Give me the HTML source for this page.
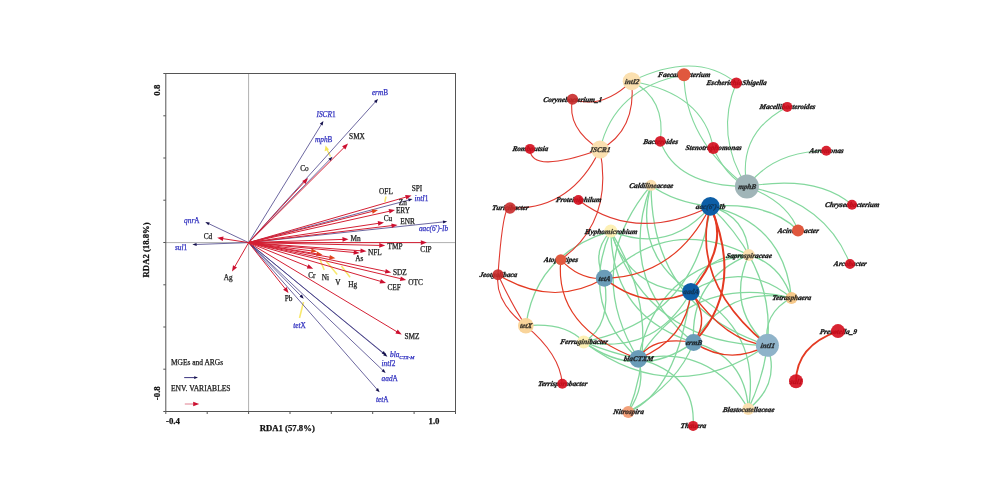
<!DOCTYPE html>
<html><head><meta charset="utf-8"><style>
html,body{margin:0;padding:0;background:#fff;}
body{width:1000px;height:500px;overflow:hidden;font-family:"Liberation Serif",serif;}
svg{display:block;filter:blur(0.6px);}
</style></head><body>
<svg width="1000" height="500" viewBox="0 0 1000 500">
<rect width="1000" height="500" fill="#fff"/>
<g font-family='"Liberation Serif", serif'>
<line x1="248.6" y1="73.5" x2="248.6" y2="411.5" stroke="#9a9a9a" stroke-width="0.8"/>
<line x1="165.8" y1="242.6" x2="455.5" y2="242.6" stroke="#9a9a9a" stroke-width="0.8"/>
<rect x="165.8" y="73.5" width="289.7" height="338.0" fill="none" stroke="#555" stroke-width="1"/>
<line x1="163.3" y1="73.5" x2="165.8" y2="73.5" stroke="#555" stroke-width="1"/>
<line x1="163.3" y1="115.8" x2="165.8" y2="115.8" stroke="#555" stroke-width="1"/>
<line x1="163.3" y1="158.0" x2="165.8" y2="158.0" stroke="#555" stroke-width="1"/>
<line x1="163.3" y1="200.2" x2="165.8" y2="200.2" stroke="#555" stroke-width="1"/>
<line x1="163.3" y1="242.5" x2="165.8" y2="242.5" stroke="#555" stroke-width="1"/>
<line x1="163.3" y1="284.8" x2="165.8" y2="284.8" stroke="#555" stroke-width="1"/>
<line x1="163.3" y1="327.0" x2="165.8" y2="327.0" stroke="#555" stroke-width="1"/>
<line x1="163.3" y1="369.2" x2="165.8" y2="369.2" stroke="#555" stroke-width="1"/>
<line x1="163.3" y1="411.5" x2="165.8" y2="411.5" stroke="#555" stroke-width="1"/>
<line x1="165.8" y1="411.5" x2="165.8" y2="414.0" stroke="#555" stroke-width="1"/>
<line x1="207.2" y1="411.5" x2="207.2" y2="414.0" stroke="#555" stroke-width="1"/>
<line x1="248.6" y1="411.5" x2="248.6" y2="414.0" stroke="#555" stroke-width="1"/>
<line x1="290.0" y1="411.5" x2="290.0" y2="414.0" stroke="#555" stroke-width="1"/>
<line x1="331.3" y1="411.5" x2="331.3" y2="414.0" stroke="#555" stroke-width="1"/>
<line x1="372.7" y1="411.5" x2="372.7" y2="414.0" stroke="#555" stroke-width="1"/>
<line x1="414.1" y1="411.5" x2="414.1" y2="414.0" stroke="#555" stroke-width="1"/>
<line x1="455.5" y1="411.5" x2="455.5" y2="414.0" stroke="#555" stroke-width="1"/>
<line x1="386" y1="196.5" x2="384.8" y2="202" stroke="#f5e03a" stroke-width="1.5" stroke-opacity="0.75"/>
<line x1="319" y1="257" x2="324.2" y2="270" stroke="#f5e03a" stroke-width="1.5" stroke-opacity="0.75"/>
<line x1="326" y1="261" x2="337.2" y2="274.4" stroke="#f5e03a" stroke-width="1.5" stroke-opacity="0.75"/>
<line x1="341.4" y1="266" x2="350.1" y2="277.2" stroke="#f5e03a" stroke-width="1.5" stroke-opacity="0.75"/>
<line x1="303.5" y1="302" x2="299.5" y2="318" stroke="#f5e03a" stroke-width="1.5" stroke-opacity="0.75"/>
<line x1="327.2" y1="150" x2="330.5" y2="156.5" stroke="#f5e03a" stroke-width="1.5" stroke-opacity="0.75"/>
<line x1="248.6" y1="242.6" x2="375.5" y2="101.7" stroke="#3c3680" stroke-width="0.75"/>
<polygon points="378.0,99.0 376.4,103.2 374.0,101.0" fill="#14104c"/>
<line x1="248.6" y1="242.6" x2="321.5" y2="124.2" stroke="#3c3680" stroke-width="0.75"/>
<polygon points="323.4,121.0 322.6,125.4 319.8,123.7" fill="#14104c"/>
<line x1="248.6" y1="242.6" x2="329.9" y2="159.4" stroke="#3c3680" stroke-width="0.75"/>
<polygon points="332.5,156.8 330.7,160.9 328.4,158.7" fill="#14104c"/>
<line x1="248.6" y1="242.6" x2="408.9" y2="200.0" stroke="#3c3680" stroke-width="0.75"/>
<polygon points="412.5,199.0 408.9,201.6 408.0,198.5" fill="#14104c"/>
<line x1="248.6" y1="242.6" x2="443.5" y2="221.9" stroke="#3c3680" stroke-width="0.75"/>
<polygon points="447.2,221.5 443.2,223.5 442.9,220.4" fill="#14104c"/>
<line x1="248.6" y1="242.6" x2="208.6" y2="223.6" stroke="#3c3680" stroke-width="0.75"/>
<polygon points="205.3,222.0 209.8,222.4 208.4,225.2" fill="#14104c"/>
<line x1="248.6" y1="242.6" x2="196.1" y2="244.5" stroke="#3c3680" stroke-width="0.75"/>
<polygon points="192.4,244.6 196.5,242.9 196.7,246.0" fill="#14104c"/>
<line x1="248.6" y1="242.6" x2="301.1" y2="296.1" stroke="#3c3680" stroke-width="0.75"/>
<polygon points="303.7,298.7 299.6,296.8 301.9,294.6" fill="#14104c"/>
<line x1="248.6" y1="242.6" x2="384.5" y2="354.4" stroke="#3c3680" stroke-width="0.75"/>
<polygon points="387.4,356.7 383.1,355.3 385.2,352.8" fill="#14104c"/>
<line x1="248.6" y1="242.6" x2="383.1" y2="352.7" stroke="#3c3680" stroke-width="0.75"/>
<polygon points="386.0,355.0 381.7,353.6 383.8,351.1" fill="#14104c"/>
<line x1="248.6" y1="242.6" x2="382.9" y2="370.4" stroke="#3c3680" stroke-width="0.75"/>
<polygon points="385.6,373.0 381.5,371.3 383.7,368.9" fill="#14104c"/>
<line x1="248.6" y1="242.6" x2="377.2" y2="389.5" stroke="#3c3680" stroke-width="0.75"/>
<polygon points="379.6,392.3 375.6,390.2 378.0,388.1" fill="#14104c"/>
<line x1="248.6" y1="242.6" x2="344.1" y2="147.5" stroke="#d42034" stroke-width="1.0"/>
<polygon points="348.0,143.6 345.4,149.5 342.1,146.2" fill="#cc1030"/>
<line x1="248.6" y1="242.6" x2="304.3" y2="182.0" stroke="#d42034" stroke-width="1.0"/>
<polygon points="308.0,178.0 305.6,184.0 302.2,180.9" fill="#cc1030"/>
<line x1="248.6" y1="242.6" x2="406.2" y2="197.0" stroke="#d42034" stroke-width="1.0"/>
<polygon points="411.5,195.5 406.4,199.4 405.1,195.0" fill="#cc1030"/>
<line x1="248.6" y1="242.6" x2="389.6" y2="211.2" stroke="#d42034" stroke-width="1.0"/>
<polygon points="395.0,210.0 389.6,213.5 388.6,209.1" fill="#cc1030"/>
<line x1="248.6" y1="242.6" x2="378.6" y2="223.3" stroke="#d42034" stroke-width="1.0"/>
<polygon points="384.0,222.5 378.4,225.7 377.7,221.1" fill="#cc1030"/>
<line x1="248.6" y1="242.6" x2="392.0" y2="225.6" stroke="#d42034" stroke-width="1.0"/>
<polygon points="397.5,225.0 391.8,228.0 391.3,223.4" fill="#cc1030"/>
<line x1="248.6" y1="242.6" x2="343.0" y2="239.4" stroke="#d42034" stroke-width="1.0"/>
<polygon points="348.5,239.2 342.6,241.7 342.4,237.1" fill="#cc1030"/>
<line x1="248.6" y1="242.6" x2="421.3" y2="242.6" stroke="#d42034" stroke-width="1.0"/>
<polygon points="426.8,242.6 420.8,244.9 420.8,240.3" fill="#cc1030"/>
<line x1="248.6" y1="242.6" x2="379.7" y2="245.4" stroke="#d42034" stroke-width="1.0"/>
<polygon points="385.2,245.5 379.2,247.7 379.3,243.1" fill="#cc1030"/>
<line x1="248.6" y1="242.6" x2="361.0" y2="250.8" stroke="#d42034" stroke-width="1.0"/>
<polygon points="366.5,251.2 360.3,253.1 360.7,248.5" fill="#cc1030"/>
<line x1="248.6" y1="242.6" x2="354.2" y2="252.5" stroke="#d42034" stroke-width="1.0"/>
<polygon points="359.7,253.0 353.5,254.7 353.9,250.2" fill="#cc1030"/>
<line x1="248.6" y1="242.6" x2="385.8" y2="271.4" stroke="#d42034" stroke-width="1.0"/>
<polygon points="391.2,272.5 384.9,273.5 385.8,269.0" fill="#cc1030"/>
<line x1="248.6" y1="242.6" x2="400.8" y2="278.7" stroke="#d42034" stroke-width="1.0"/>
<polygon points="406.2,280.0 399.8,280.9 400.9,276.4" fill="#cc1030"/>
<line x1="248.6" y1="242.6" x2="380.7" y2="281.4" stroke="#d42034" stroke-width="1.0"/>
<polygon points="386.0,283.0 379.6,283.5 380.9,279.1" fill="#cc1030"/>
<line x1="248.6" y1="242.6" x2="308.1" y2="266.6" stroke="#d42034" stroke-width="1.0"/>
<polygon points="313.2,268.7 306.8,268.6 308.5,264.3" fill="#cc1030"/>
<line x1="248.6" y1="242.6" x2="285.2" y2="288.7" stroke="#d42034" stroke-width="1.0"/>
<polygon points="288.6,293.0 283.1,289.7 286.7,286.9" fill="#cc1030"/>
<line x1="248.6" y1="242.6" x2="397.0" y2="331.8" stroke="#d42034" stroke-width="1.0"/>
<polygon points="401.7,334.6 395.4,333.5 397.7,329.5" fill="#cc1030"/>
<line x1="248.6" y1="242.6" x2="222.6" y2="238.6" stroke="#d42034" stroke-width="1.0"/>
<polygon points="217.2,237.8 223.5,236.4 222.8,241.0" fill="#cc1030"/>
<line x1="248.6" y1="242.6" x2="234.7" y2="266.8" stroke="#d42034" stroke-width="1.0"/>
<polygon points="232.0,271.6 233.0,265.3 237.0,267.5" fill="#cc1030"/>
<polygon points="325.6,145.6 324.6,151.2 329,149.6" fill="#f5e03a" fill-opacity="0.85"/>
<line x1="248.6" y1="242.6" x2="311.7" y2="250.9" stroke="#d42034" stroke-width="1.0"/>
<polygon points="317.2,251.6 311.0,253.1 311.6,248.5" fill="#e0441c"/>
<line x1="248.6" y1="242.6" x2="317.1" y2="253.9" stroke="#d42034" stroke-width="1.0"/>
<polygon points="322.5,254.8 316.2,256.1 317.0,251.6" fill="#e0441c"/>
<line x1="248.6" y1="242.6" x2="330.0" y2="257.3" stroke="#d42034" stroke-width="1.0"/>
<polygon points="335.4,258.3 329.1,259.5 329.9,255.0" fill="#e0441c"/>
<line x1="248.6" y1="242.6" x2="372.7" y2="211.3" stroke="#d42034" stroke-width="1.0"/>
<polygon points="378.0,210.0 372.7,213.7 371.6,209.2" fill="#e0441c"/>
<line x1="184.2" y1="377.6" x2="194.7" y2="377.6" stroke="#3c3680" stroke-width="1.0"/>
<polygon points="198.0,377.6 194.2,379.0 194.2,376.2" fill="#14104c"/>
<line x1="184.8" y1="404.0" x2="193.7" y2="404.0" stroke="#e08090" stroke-width="1.0"/>
<polygon points="199.2,404.0 193.2,406.3 193.2,401.7" fill="#cc1030"/>
<text x="171" y="365" font-size="7.45" fill="#222" stroke="#222" stroke-width="0.25" font-weight="normal"  text-anchor="start">MGEs and ARGs</text>
<text x="171" y="391.2" font-size="7.55" fill="#222" stroke="#222" stroke-width="0.25" font-weight="normal"  text-anchor="start">ENV. VARIABLES</text>
<text x="357" y="139" font-size="7.3" fill="#222" stroke="#222" stroke-width="0.25" font-weight="normal"  text-anchor="middle">SMX</text>
<text x="304.5" y="171" font-size="7.3" fill="#222" stroke="#222" stroke-width="0.25" font-weight="normal"  text-anchor="middle">Co</text>
<text x="386" y="193.6" font-size="7.3" fill="#222" stroke="#222" stroke-width="0.25" font-weight="normal"  text-anchor="middle">OFL</text>
<text x="417" y="190.5" font-size="7.3" fill="#222" stroke="#222" stroke-width="0.25" font-weight="normal"  text-anchor="middle">SPI</text>
<text x="402.8" y="205" font-size="7.3" fill="#222" stroke="#222" stroke-width="0.25" font-weight="normal"  text-anchor="middle">Zn</text>
<text x="403" y="213.2" font-size="7.3" fill="#222" stroke="#222" stroke-width="0.25" font-weight="normal"  text-anchor="middle">ERY</text>
<text x="388" y="220.8" font-size="7.3" fill="#222" stroke="#222" stroke-width="0.25" font-weight="normal"  text-anchor="middle">Cu</text>
<text x="407.5" y="224" font-size="7.3" fill="#222" stroke="#222" stroke-width="0.25" font-weight="normal"  text-anchor="middle">ENR</text>
<text x="355.6" y="241.2" font-size="7.3" fill="#222" stroke="#222" stroke-width="0.25" font-weight="normal"  text-anchor="middle">Mn</text>
<text x="395" y="248.8" font-size="7.3" fill="#222" stroke="#222" stroke-width="0.25" font-weight="normal"  text-anchor="middle">TMP</text>
<text x="426" y="251.6" font-size="7.3" fill="#222" stroke="#222" stroke-width="0.25" font-weight="normal"  text-anchor="middle">CIP</text>
<text x="374.8" y="255.2" font-size="7.3" fill="#222" stroke="#222" stroke-width="0.25" font-weight="normal"  text-anchor="middle">NFL</text>
<text x="359.3" y="261.2" font-size="7.3" fill="#222" stroke="#222" stroke-width="0.25" font-weight="normal"  text-anchor="middle">As</text>
<text x="399.8" y="274.8" font-size="7.3" fill="#222" stroke="#222" stroke-width="0.25" font-weight="normal"  text-anchor="middle">SDZ</text>
<text x="415.6" y="284.6" font-size="7.3" fill="#222" stroke="#222" stroke-width="0.25" font-weight="normal"  text-anchor="middle">OTC</text>
<text x="394.2" y="290.4" font-size="7.3" fill="#222" stroke="#222" stroke-width="0.25" font-weight="normal"  text-anchor="middle">CEF</text>
<text x="311.8" y="277.8" font-size="7.3" fill="#222" stroke="#222" stroke-width="0.25" font-weight="normal"  text-anchor="middle">Cr</text>
<text x="325.3" y="280.2" font-size="7.3" fill="#222" stroke="#222" stroke-width="0.25" font-weight="normal"  text-anchor="middle">Ni</text>
<text x="337.8" y="285.2" font-size="7.3" fill="#222" stroke="#222" stroke-width="0.25" font-weight="normal"  text-anchor="middle">V</text>
<text x="352.6" y="286.6" font-size="7.3" fill="#222" stroke="#222" stroke-width="0.25" font-weight="normal"  text-anchor="middle">Hg</text>
<text x="288.6" y="301.2" font-size="7.3" fill="#222" stroke="#222" stroke-width="0.25" font-weight="normal"  text-anchor="middle">Pb</text>
<text x="412" y="338.6" font-size="7.3" fill="#222" stroke="#222" stroke-width="0.25" font-weight="normal"  text-anchor="middle">SMZ</text>
<text x="208" y="238.8" font-size="7.3" fill="#222" stroke="#222" stroke-width="0.25" font-weight="normal"  text-anchor="middle">Cd</text>
<text x="228.3" y="279.6" font-size="7.3" fill="#222" stroke="#222" stroke-width="0.25" font-weight="normal"  text-anchor="middle">Ag</text>
<text x="380" y="95.2" font-size="7.3" fill="#3535c0" stroke="#3535c0" stroke-width="0.25" font-weight="normal"  text-anchor="middle"><tspan font-style="italic">erm</tspan>B</text>
<text x="326" y="117.2" font-size="7.3" fill="#3535c0" stroke="#3535c0" stroke-width="0.25" font-weight="normal"  text-anchor="middle"><tspan font-style="italic">ISCR</tspan>1</text>
<text x="323.7" y="142.4" font-size="7.3" fill="#3535c0" stroke="#3535c0" stroke-width="0.25" font-weight="normal"  text-anchor="middle"><tspan font-style="italic">mph</tspan>B</text>
<text x="421.4" y="201.2" font-size="7.3" fill="#3535c0" stroke="#3535c0" stroke-width="0.25" font-weight="normal"  text-anchor="middle"><tspan font-style="italic">intI</tspan>1</text>
<text x="433.5" y="231.2" font-size="7.3" fill="#3535c0" stroke="#3535c0" stroke-width="0.25" font-weight="normal"  text-anchor="middle"><tspan font-style="italic">aac(6′)-Ib</tspan></text>
<text x="388.5" y="365.8" font-size="7.3" fill="#3535c0" stroke="#3535c0" stroke-width="0.25" font-weight="normal"  text-anchor="middle"><tspan font-style="italic">intI</tspan>2</text>
<text x="389.7" y="381.4" font-size="7.3" fill="#3535c0" stroke="#3535c0" stroke-width="0.25" font-weight="normal"  text-anchor="middle"><tspan font-style="italic">aad</tspan>A</text>
<text x="382.2" y="401.6" font-size="7.3" fill="#3535c0" stroke="#3535c0" stroke-width="0.25" font-weight="normal"  text-anchor="middle"><tspan font-style="italic">tet</tspan>A</text>
<text x="191.8" y="223.4" font-size="7.3" fill="#3535c0" stroke="#3535c0" stroke-width="0.25" font-weight="normal"  text-anchor="middle"><tspan font-style="italic">qnr</tspan>A</text>
<text x="181" y="250.2" font-size="7.3" fill="#3535c0" stroke="#3535c0" stroke-width="0.25" font-weight="normal"  text-anchor="middle"><tspan font-style="italic">sul</tspan>1</text>
<text x="299.5" y="328.2" font-size="7.3" fill="#3535c0" stroke="#3535c0" stroke-width="0.25" font-weight="normal"  text-anchor="middle"><tspan font-style="italic">tet</tspan>X</text>
<text x="390" y="357.4" font-size="7.3" fill="#3030c0" stroke="#3030c0" stroke-width="0.25" font-weight="normal" font-style="italic" text-anchor="start">bla<tspan font-size="5" dy="1.6">CTX-M</tspan></text>
<text x="159.8" y="90.2" font-size="8.8" fill="#111" stroke="#111" stroke-width="0.25" font-weight="bold"  text-anchor="middle" transform="rotate(-90 159.8 90.2)">0.8</text>
<text x="159.8" y="393.2" font-size="8.8" fill="#111" stroke="#111" stroke-width="0.25" font-weight="bold"  text-anchor="middle" transform="rotate(-90 159.8 393.2)">-0.8</text>
<text x="166" y="424.4" font-size="8.8" fill="#111" stroke="#111" stroke-width="0.25" font-weight="bold"  text-anchor="start">-0.4</text>
<text x="434" y="423.8" font-size="8.8" fill="#111" stroke="#111" stroke-width="0.25" font-weight="bold"  text-anchor="middle">1.0</text>
<text x="287.3" y="430.6" font-size="8.7" fill="#111" stroke="#111" stroke-width="0.25" font-weight="bold"  text-anchor="middle">RDA1 (57.8%)</text>
<text x="149.4" y="249.9" font-size="8.7" fill="#111" stroke="#111" stroke-width="0.25" font-weight="bold"  text-anchor="middle" transform="rotate(-90 149.4 249.9)">RDA2 (18.8%)</text>
</g>
<g fill="none">
<path d="M631.7,81.2 Q696.0,49.9 736.3,83.0" stroke="#84d89e" stroke-width="1.1"/>
<path d="M631.7,81.2 Q666.0,98.8 660.3,141.3" stroke="#84d89e" stroke-width="1.1"/>
<path d="M631.7,81.2 Q703.5,93.4 713.3,148.0" stroke="#84d89e" stroke-width="1.1"/>
<path d="M600.0,149.6 Q614.0,87.8 684.0,74.7" stroke="#84d89e" stroke-width="1.1"/>
<path d="M684.0,74.7 Q684.5,139.3 746.9,186.6" stroke="#84d89e" stroke-width="1.1"/>
<path d="M736.3,83.0 Q714.4,135.2 746.9,186.6" stroke="#84d89e" stroke-width="1.1"/>
<path d="M660.3,141.3 Q676.4,186.1 746.9,186.6" stroke="#84d89e" stroke-width="1.1"/>
<path d="M713.3,148.0 Q725.9,176.7 746.9,186.6" stroke="#84d89e" stroke-width="1.1"/>
<path d="M787.2,106.9 Q737.0,133.2 746.9,186.6" stroke="#84d89e" stroke-width="1.1"/>
<path d="M826.3,150.8 Q773.4,151.3 746.9,186.6" stroke="#84d89e" stroke-width="1.1"/>
<path d="M852.0,204.7 Q816.5,174.4 746.9,186.6" stroke="#84d89e" stroke-width="1.1"/>
<path d="M798.0,230.4 Q787.5,201.5 746.9,186.6" stroke="#84d89e" stroke-width="1.1"/>
<path d="M850.0,264.0 Q825.5,200.7 746.9,186.6" stroke="#84d89e" stroke-width="1.1"/>
<path d="M710.4,206.4 Q769.8,201.6 798.0,230.4" stroke="#84d89e" stroke-width="1.3"/>
<path d="M651.0,185.3 Q673.3,202.1 710.4,206.4" stroke="#84d89e" stroke-width="1.3"/>
<path d="M651.0,185.3 Q582.2,267.5 638.3,358.8" stroke="#84d89e" stroke-width="1.3"/>
<path d="M651.0,185.3 Q632.6,252.9 690.9,291.8" stroke="#84d89e" stroke-width="1.3"/>
<path d="M651.0,185.3 Q615.7,279.2 693.6,342.4" stroke="#84d89e" stroke-width="1.3"/>
<path d="M651.0,185.3 Q651.6,307.2 767.4,345.3" stroke="#84d89e" stroke-width="1.3"/>
<path d="M610.8,231.1 Q590.6,252.4 604.3,278.3" stroke="#84d89e" stroke-width="1.3"/>
<path d="M610.8,231.1 Q578.6,304.8 638.3,358.8" stroke="#84d89e" stroke-width="1.3"/>
<path d="M610.8,231.1 Q629.0,290.3 690.9,291.8" stroke="#84d89e" stroke-width="1.3"/>
<path d="M610.8,231.1 Q612.1,316.6 693.6,342.4" stroke="#84d89e" stroke-width="1.3"/>
<path d="M610.8,231.1 Q648.0,344.6 767.4,345.3" stroke="#84d89e" stroke-width="1.3"/>
<path d="M610.8,231.1 Q669.5,254.6 710.4,206.4" stroke="#84d89e" stroke-width="1.3"/>
<path d="M748.8,255.1 Q668.2,214.7 604.3,278.3" stroke="#84d89e" stroke-width="1.3"/>
<path d="M748.8,255.1 Q656.2,267.2 638.3,358.8" stroke="#84d89e" stroke-width="1.3"/>
<path d="M748.8,255.1 Q706.6,252.6 690.9,291.8" stroke="#84d89e" stroke-width="1.3"/>
<path d="M748.8,255.1 Q689.8,278.9 693.6,342.4" stroke="#84d89e" stroke-width="1.3"/>
<path d="M748.8,255.1 Q725.6,306.9 767.4,345.3" stroke="#84d89e" stroke-width="1.3"/>
<path d="M748.8,255.1 Q747.1,216.9 710.4,206.4" stroke="#84d89e" stroke-width="1.3"/>
<path d="M791.5,298.0 Q693.0,273.2 638.3,358.8" stroke="#84d89e" stroke-width="1.3"/>
<path d="M791.5,298.0 Q743.4,258.7 690.9,291.8" stroke="#84d89e" stroke-width="1.3"/>
<path d="M791.5,298.0 Q726.6,285.0 693.6,342.4" stroke="#84d89e" stroke-width="1.3"/>
<path d="M791.5,298.0 Q762.4,313.0 767.4,345.3" stroke="#84d89e" stroke-width="1.3"/>
<path d="M791.5,298.0 Q783.9,223.0 710.4,206.4" stroke="#84d89e" stroke-width="1.3"/>
<path d="M583.7,341.9 Q655.3,355.4 690.9,291.8" stroke="#84d89e" stroke-width="1.3"/>
<path d="M583.7,341.9 Q638.5,381.7 693.6,342.4" stroke="#84d89e" stroke-width="1.3"/>
<path d="M583.7,341.9 Q674.3,409.7 767.4,345.3" stroke="#84d89e" stroke-width="1.3"/>
<path d="M583.7,341.9 Q695.8,319.8 710.4,206.4" stroke="#84d89e" stroke-width="1.3"/>
<path d="M748.3,409.1 Q711.4,344.4 638.3,358.8" stroke="#84d89e" stroke-width="1.3"/>
<path d="M748.3,409.1 Q761.8,329.8 690.9,291.8" stroke="#84d89e" stroke-width="1.3"/>
<path d="M748.3,409.1 Q745.0,356.1 693.6,342.4" stroke="#84d89e" stroke-width="1.3"/>
<path d="M748.3,409.1 Q780.8,384.1 767.4,345.3" stroke="#84d89e" stroke-width="1.3"/>
<path d="M748.3,409.1 Q802.3,294.1 710.4,206.4" stroke="#84d89e" stroke-width="1.3"/>
<path d="M628.3,412.0 Q646.7,384.6 638.3,358.8" stroke="#84d89e" stroke-width="1.3"/>
<path d="M628.3,412.0 Q679.0,382.8 693.6,342.4" stroke="#84d89e" stroke-width="1.3"/>
<path d="M628.3,412.0 Q676.4,392.1 690.9,291.8" stroke="#84d89e" stroke-width="1.3"/>
<path d="M628.3,412.0 Q664.5,318.4 610.8,231.1" stroke="#84d89e" stroke-width="1.3"/>
<path d="M693.1,425.9 Q696.3,373.6 638.3,358.8" stroke="#84d89e" stroke-width="1.3"/>
<path d="M525.8,325.8 Q565.2,322.1 583.7,341.9" stroke="#84d89e" stroke-width="1.3"/>
<path d="M525.8,325.8 Q535.9,253.7 610.8,231.1" stroke="#84d89e" stroke-width="1.3"/>
<path d="M583.7,341.9 Q613.0,353.6 638.3,358.8" stroke="#84d89e" stroke-width="1.3"/>
<path d="M604.3,278.3 Q612.0,325.9 583.7,341.9" stroke="#84d89e" stroke-width="1.3"/>
<path d="M748.8,255.1 Q779.9,263.4 791.5,298.0" stroke="#84d89e" stroke-width="1.3"/>
<path d="M631.7,81.2 Q602.4,109.8 572.5,99.2" stroke="#e03a30" stroke-width="1.1"/>
<path d="M572.5,99.2 Q566.4,128.3 600.0,149.6" stroke="#e03a30" stroke-width="1.1"/>
<path d="M631.7,81.2 Q636.4,130.3 600.0,149.6" stroke="#e03a30" stroke-width="1.1"/>
<path d="M530.0,148.9 Q530.5,174.5 600.0,149.6" stroke="#e03a30" stroke-width="1.1"/>
<path d="M600.0,149.6 Q570.6,210.7 510.0,208.0" stroke="#e03a30" stroke-width="1.1"/>
<path d="M600.0,149.6 Q613.7,222.0 560.8,259.6" stroke="#e03a30" stroke-width="1.1"/>
<path d="M510.0,208.0 Q503.0,203.6 498.0,274.7" stroke="#e03a30" stroke-width="1.1"/>
<path d="M578.4,200.0 Q635.1,243.4 710.4,206.4" stroke="#e03a30" stroke-width="1.1"/>
<path d="M710.4,206.4 Q675.1,276.9 604.3,278.3" stroke="#e43a22" stroke-width="1.2"/>
<path d="M710.4,206.4 Q730.5,245.1 690.9,291.8" stroke="#e43a22" stroke-width="2.0"/>
<path d="M710.4,206.4 Q745.3,288.9 693.6,342.4" stroke="#e43a22" stroke-width="2.0"/>
<path d="M710.4,206.4 Q689.7,281.5 767.4,345.3" stroke="#e43a22" stroke-width="1.7"/>
<path d="M604.3,278.3 Q647.0,312.1 690.9,291.8" stroke="#e43a22" stroke-width="1.5"/>
<path d="M690.9,291.8 Q686.7,339.1 638.3,358.8" stroke="#e43a22" stroke-width="1.4"/>
<path d="M690.9,291.8 Q711.0,319.1 693.6,342.4" stroke="#e43a22" stroke-width="1.4"/>
<path d="M690.9,291.8 Q726.6,342.1 767.4,345.3" stroke="#e43a22" stroke-width="1.4"/>
<path d="M693.6,342.4 Q729.3,366.3 767.4,345.3" stroke="#e43a22" stroke-width="1.4"/>
<path d="M638.3,358.8 Q651.9,335.7 693.6,342.4" stroke="#e43a22" stroke-width="1.4"/>
<path d="M560.8,259.6 Q554.0,327.6 638.3,358.8" stroke="#e43a22" stroke-width="1.2"/>
<path d="M560.8,259.6 Q579.8,280.3 604.3,278.3" stroke="#e43a22" stroke-width="1.2"/>
<path d="M498.0,274.7 Q552.9,308.4 604.3,278.3" stroke="#e43a22" stroke-width="1.2"/>
<path d="M498.0,274.7 Q494.4,301.9 525.8,325.8" stroke="#e03a30" stroke-width="1.1"/>
<path d="M498.0,274.7 Q512.7,306.5 525.8,325.8" stroke="#e03a30" stroke-width="1.1"/>
<path d="M525.8,325.8 Q560.0,354.1 562.3,383.7" stroke="#e03a30" stroke-width="1.1"/>
<path d="M838.0,331.1 Q796.4,345.9 796.0,381.3" stroke="#e43a22" stroke-width="1.8"/>
</g>
<g font-family='"Liberation Serif", serif' font-style="italic" font-weight="bold" font-size="7.2" fill="#111" stroke="#111" stroke-width="0.3" text-anchor="middle" opacity="1">
<text transform="translate(631.7 83.6) skewX(-10)">intI2</text>
<text transform="translate(572.5 101.6) skewX(-10)">Corynebacterium_1</text>
<text transform="translate(600 152.0) skewX(-10)">ISCR1</text>
<text transform="translate(530 151.3) skewX(-10)">Romboutsia</text>
<text transform="translate(660.3 143.7) skewX(-10)">Bacteroides</text>
<text transform="translate(684 77.1) skewX(-10)">Faecalibacterium</text>
<text transform="translate(736.3 85.4) skewX(-10)">EscherichiaShigella</text>
<text transform="translate(787.2 109.3) skewX(-10)">Macellibacteroides</text>
<text transform="translate(713.3 150.4) skewX(-10)">Stenotrophomonas</text>
<text transform="translate(826.3 153.2) skewX(-10)">Aeromonas</text>
<text transform="translate(510 210.4) skewX(-10)">Turicibacter</text>
<text transform="translate(578.4 202.4) skewX(-10)">Proteiniphilum</text>
<text transform="translate(651 187.7) skewX(-10)">Caldilineaceae</text>
<text transform="translate(610.8 233.5) skewX(-10)">Hyphomicrobium</text>
<text transform="translate(560.8 262.0) skewX(-10)">Atopostipes</text>
<text transform="translate(746.9 189.0) skewX(-10)">mphB</text>
<text transform="translate(710.4 208.8) skewX(-10)">aac(6′)-Ib</text>
<text transform="translate(852 207.1) skewX(-10)">Chryseobacterium</text>
<text transform="translate(798 232.8) skewX(-10)">Acinetobacter</text>
<text transform="translate(748.8 257.5) skewX(-10)">Saprospiraceae</text>
<text transform="translate(850 266.4) skewX(-10)">Arcobacter</text>
<text transform="translate(498 277.1) skewX(-10)">Jeotgalibaca</text>
<text transform="translate(604.3 280.7) skewX(-10)">tetA</text>
<text transform="translate(525.8 328.2) skewX(-10)">tetX</text>
<text transform="translate(583.7 344.3) skewX(-10)">Ferruginibacter</text>
<text transform="translate(638.3 361.2) skewX(-10)">blaCTXM</text>
<text transform="translate(690.9 294.2) skewX(-10)">aadA</text>
<text transform="translate(693.6 344.8) skewX(-10)">ermB</text>
<text transform="translate(767.4 347.7) skewX(-10)">intI1</text>
<text transform="translate(791.5 300.4) skewX(-10)">Tetrasphaera</text>
<text transform="translate(838 333.5) skewX(-10)">Prevotella_9</text>
<text transform="translate(796 383.7) skewX(-10)">sul1</text>
<text transform="translate(748.3 411.5) skewX(-10)">Blastocatellaceae</text>
<text transform="translate(693.1 428.3) skewX(-10)">Thauera</text>
<text transform="translate(562.3 386.1) skewX(-10)">Terrisporobacter</text>
<text transform="translate(628.3 414.4) skewX(-10)">Nitrospira</text>
</g>
<circle cx="631.7" cy="81.2" r="9" fill="#fbe0b0" fill-opacity="1"/>
<circle cx="572.5" cy="99.2" r="5.5" fill="#c82a2a" fill-opacity="0.9"/>
<circle cx="600" cy="149.6" r="9" fill="#fbe0b0" fill-opacity="1"/>
<circle cx="530" cy="148.9" r="5" fill="#d40c1c" fill-opacity="0.9"/>
<circle cx="660.3" cy="141.3" r="5.4" fill="#d40c1c" fill-opacity="0.9"/>
<circle cx="684" cy="74.7" r="6.5" fill="#e0583e" fill-opacity="1"/>
<circle cx="736.3" cy="83" r="5.6" fill="#d40c1c" fill-opacity="0.9"/>
<circle cx="787.2" cy="106.9" r="5" fill="#d40c1c" fill-opacity="0.9"/>
<circle cx="713.3" cy="148" r="6" fill="#d40c1c" fill-opacity="0.9"/>
<circle cx="826.3" cy="150.8" r="5" fill="#d40c1c" fill-opacity="0.9"/>
<circle cx="510" cy="208" r="5.8" fill="#c82a2a" fill-opacity="0.9"/>
<circle cx="578.4" cy="200" r="5" fill="#d40c1c" fill-opacity="0.9"/>
<circle cx="651" cy="185.3" r="5.5" fill="#fbe0b0" fill-opacity="1"/>
<circle cx="610.8" cy="231.1" r="6.5" fill="#fdf0b5" fill-opacity="1"/>
<circle cx="560.8" cy="259.6" r="5.4" fill="#e0583e" fill-opacity="1"/>
<circle cx="746.9" cy="186.6" r="12" fill="#a0b5b8" fill-opacity="1"/>
<circle cx="710.4" cy="206.4" r="9.3" fill="#0d5ea6" fill-opacity="1"/>
<circle cx="852" cy="204.7" r="5" fill="#d40c1c" fill-opacity="0.9"/>
<circle cx="798" cy="230.4" r="6" fill="#e0583e" fill-opacity="1"/>
<circle cx="748.8" cy="255.1" r="6" fill="#fbe0b0" fill-opacity="1"/>
<circle cx="850" cy="264" r="5" fill="#d40c1c" fill-opacity="0.9"/>
<circle cx="498" cy="274.7" r="5.5" fill="#c82a2a" fill-opacity="0.9"/>
<circle cx="604.3" cy="278.3" r="8.5" fill="#6a9cb8" fill-opacity="1"/>
<circle cx="525.8" cy="325.8" r="7.8" fill="#f9d49a" fill-opacity="1"/>
<circle cx="583.7" cy="341.9" r="6.5" fill="#fdf0b5" fill-opacity="1"/>
<circle cx="638.3" cy="358.8" r="8.9" fill="#6a9cb8" fill-opacity="1"/>
<circle cx="690.9" cy="291.8" r="8.8" fill="#0d5ea6" fill-opacity="1"/>
<circle cx="693.6" cy="342.4" r="8.5" fill="#6a9cb8" fill-opacity="1"/>
<circle cx="767.4" cy="345.3" r="11.5" fill="#8fb3c9" fill-opacity="1"/>
<circle cx="791.5" cy="298" r="6" fill="#f7c98a" fill-opacity="1"/>
<circle cx="838" cy="331.1" r="7" fill="#d40c1c" fill-opacity="0.9"/>
<circle cx="796" cy="381.3" r="7" fill="#d40c1c" fill-opacity="0.9"/>
<circle cx="748.3" cy="409.1" r="6" fill="#fbe0b0" fill-opacity="1"/>
<circle cx="693.1" cy="425.9" r="5" fill="#d40c1c" fill-opacity="0.9"/>
<circle cx="562.3" cy="383.7" r="5" fill="#d40c1c" fill-opacity="0.9"/>
<circle cx="628.3" cy="412" r="6" fill="#f2a07a" fill-opacity="1"/>
<clipPath id="n0"><circle cx="631.7" cy="81.2" r="9"/></clipPath>
<g clip-path="url(#n0)" opacity="0.85"><text transform="translate(631.7 83.6) skewX(-10)" font-family='"Liberation Serif", serif' font-style="italic" font-weight="bold" font-size="7.2" fill="#111" stroke="#111" stroke-width="0.3" text-anchor="middle">intI2</text></g>
<clipPath id="n1"><circle cx="600" cy="149.6" r="9"/></clipPath>
<g clip-path="url(#n1)" opacity="0.85"><text transform="translate(600 152.0) skewX(-10)" font-family='"Liberation Serif", serif' font-style="italic" font-weight="bold" font-size="7.2" fill="#111" stroke="#111" stroke-width="0.3" text-anchor="middle">ISCR1</text></g>
<clipPath id="n2"><circle cx="651" cy="185.3" r="5.5"/></clipPath>
<g clip-path="url(#n2)" opacity="0.85"><text transform="translate(651 187.7) skewX(-10)" font-family='"Liberation Serif", serif' font-style="italic" font-weight="bold" font-size="7.2" fill="#111" stroke="#111" stroke-width="0.3" text-anchor="middle">Caldilineaceae</text></g>
<clipPath id="n3"><circle cx="610.8" cy="231.1" r="6.5"/></clipPath>
<g clip-path="url(#n3)" opacity="0.85"><text transform="translate(610.8 233.5) skewX(-10)" font-family='"Liberation Serif", serif' font-style="italic" font-weight="bold" font-size="7.2" fill="#111" stroke="#111" stroke-width="0.3" text-anchor="middle">Hyphomicrobium</text></g>
<clipPath id="n4"><circle cx="746.9" cy="186.6" r="12"/></clipPath>
<g clip-path="url(#n4)" opacity="0.85"><text transform="translate(746.9 189.0) skewX(-10)" font-family='"Liberation Serif", serif' font-style="italic" font-weight="bold" font-size="7.2" fill="#111" stroke="#111" stroke-width="0.3" text-anchor="middle">mphB</text></g>
<clipPath id="n5"><circle cx="710.4" cy="206.4" r="9.3"/></clipPath>
<g clip-path="url(#n5)" opacity="0.51"><text transform="translate(710.4 208.8) skewX(-10)" font-family='"Liberation Serif", serif' font-style="italic" font-weight="bold" font-size="7.2" fill="#111" stroke="#111" stroke-width="0.3" text-anchor="middle">aac(6′)-Ib</text></g>
<clipPath id="n6"><circle cx="748.8" cy="255.1" r="6"/></clipPath>
<g clip-path="url(#n6)" opacity="0.85"><text transform="translate(748.8 257.5) skewX(-10)" font-family='"Liberation Serif", serif' font-style="italic" font-weight="bold" font-size="7.2" fill="#111" stroke="#111" stroke-width="0.3" text-anchor="middle">Saprospiraceae</text></g>
<clipPath id="n7"><circle cx="604.3" cy="278.3" r="8.5"/></clipPath>
<g clip-path="url(#n7)" opacity="0.85"><text transform="translate(604.3 280.7) skewX(-10)" font-family='"Liberation Serif", serif' font-style="italic" font-weight="bold" font-size="7.2" fill="#111" stroke="#111" stroke-width="0.3" text-anchor="middle">tetA</text></g>
<clipPath id="n8"><circle cx="525.8" cy="325.8" r="7.8"/></clipPath>
<g clip-path="url(#n8)" opacity="0.85"><text transform="translate(525.8 328.2) skewX(-10)" font-family='"Liberation Serif", serif' font-style="italic" font-weight="bold" font-size="7.2" fill="#111" stroke="#111" stroke-width="0.3" text-anchor="middle">tetX</text></g>
<clipPath id="n9"><circle cx="583.7" cy="341.9" r="6.5"/></clipPath>
<g clip-path="url(#n9)" opacity="0.85"><text transform="translate(583.7 344.3) skewX(-10)" font-family='"Liberation Serif", serif' font-style="italic" font-weight="bold" font-size="7.2" fill="#111" stroke="#111" stroke-width="0.3" text-anchor="middle">Ferruginibacter</text></g>
<clipPath id="n10"><circle cx="638.3" cy="358.8" r="8.9"/></clipPath>
<g clip-path="url(#n10)" opacity="0.85"><text transform="translate(638.3 361.2) skewX(-10)" font-family='"Liberation Serif", serif' font-style="italic" font-weight="bold" font-size="7.2" fill="#111" stroke="#111" stroke-width="0.3" text-anchor="middle">blaCTXM</text></g>
<clipPath id="n11"><circle cx="690.9" cy="291.8" r="8.8"/></clipPath>
<g clip-path="url(#n11)" opacity="0.51"><text transform="translate(690.9 294.2) skewX(-10)" font-family='"Liberation Serif", serif' font-style="italic" font-weight="bold" font-size="7.2" fill="#111" stroke="#111" stroke-width="0.3" text-anchor="middle">aadA</text></g>
<clipPath id="n12"><circle cx="693.6" cy="342.4" r="8.5"/></clipPath>
<g clip-path="url(#n12)" opacity="0.85"><text transform="translate(693.6 344.8) skewX(-10)" font-family='"Liberation Serif", serif' font-style="italic" font-weight="bold" font-size="7.2" fill="#111" stroke="#111" stroke-width="0.3" text-anchor="middle">ermB</text></g>
<clipPath id="n13"><circle cx="767.4" cy="345.3" r="11.5"/></clipPath>
<g clip-path="url(#n13)" opacity="0.85"><text transform="translate(767.4 347.7) skewX(-10)" font-family='"Liberation Serif", serif' font-style="italic" font-weight="bold" font-size="7.2" fill="#111" stroke="#111" stroke-width="0.3" text-anchor="middle">intI1</text></g>
<clipPath id="n14"><circle cx="791.5" cy="298" r="6"/></clipPath>
<g clip-path="url(#n14)" opacity="0.85"><text transform="translate(791.5 300.4) skewX(-10)" font-family='"Liberation Serif", serif' font-style="italic" font-weight="bold" font-size="7.2" fill="#111" stroke="#111" stroke-width="0.3" text-anchor="middle">Tetrasphaera</text></g>
<clipPath id="n15"><circle cx="748.3" cy="409.1" r="6"/></clipPath>
<g clip-path="url(#n15)" opacity="0.85"><text transform="translate(748.3 411.5) skewX(-10)" font-family='"Liberation Serif", serif' font-style="italic" font-weight="bold" font-size="7.2" fill="#111" stroke="#111" stroke-width="0.3" text-anchor="middle">Blastocatellaceae</text></g>
<clipPath id="n16"><circle cx="628.3" cy="412" r="6"/></clipPath>
<g clip-path="url(#n16)" opacity="0.85"><text transform="translate(628.3 414.4) skewX(-10)" font-family='"Liberation Serif", serif' font-style="italic" font-weight="bold" font-size="7.2" fill="#111" stroke="#111" stroke-width="0.3" text-anchor="middle">Nitrospira</text></g>
</svg>
</body></html>
